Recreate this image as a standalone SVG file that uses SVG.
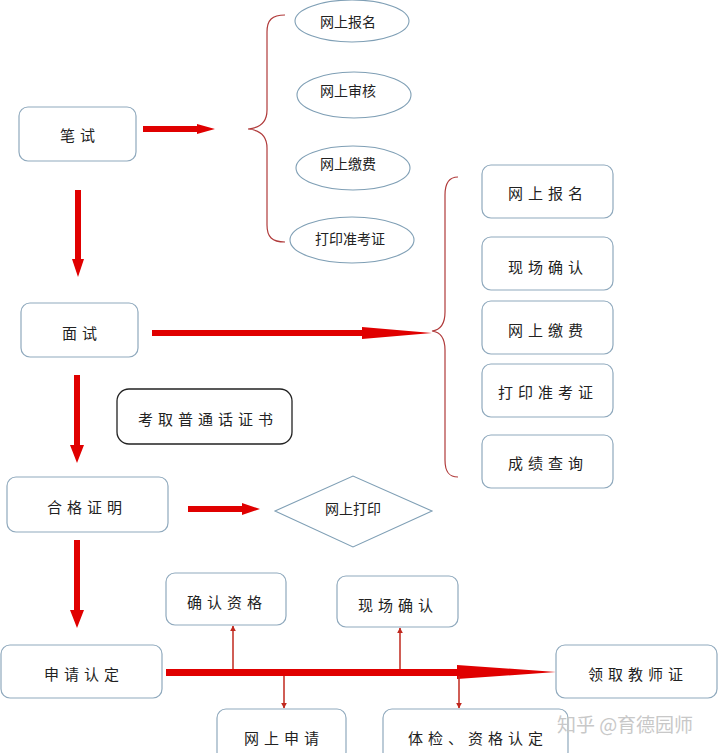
<svg xmlns="http://www.w3.org/2000/svg" width="720" height="753" viewBox="0 0 720 753">
<defs>
<style>
.box{fill:#fff;stroke:#8fa9bd;stroke-width:1.2}
.dark{fill:#fff;stroke:#222;stroke-width:1.3}
.ell{fill:#fff;stroke:#7f9fb5;stroke-width:1.1}
.t{font-family:"Noto Sans CJK SC","Noto Sans",sans-serif;font-size:15px;fill:#222;text-anchor:middle;dominant-baseline:central}
.ts{font-family:"Noto Sans CJK SC","Noto Sans",sans-serif;font-size:14px;fill:#222;text-anchor:middle;dominant-baseline:central}
.sp{letter-spacing:5px}
.big{fill:#e00000}
.brace{fill:none;stroke:#b03a3a;stroke-width:1.2}
.thin{stroke:#c0281e;stroke-width:1.5;fill:none;marker-end:url(#ah)}
</style>
<marker id="ah" viewBox="0 0 10 10" refX="9" refY="5" markerWidth="6" markerHeight="6" orient="auto" markerUnits="userSpaceOnUse">
<path d="M0,0 L10,5 L0,10 z" fill="#c0281e"/>
</marker>
</defs>
<rect width="720" height="753" fill="#fff"/>

<g id="connectors">
<polygon class="big" points="143,126 197,126 197,124 215,129 197,134 197,132 143,132"/>
<polygon class="big" points="75,190 81,190 81,259 84,259 78,277 72,259 75,259"/>
<polygon class="big" points="152,330 362,330 362,327 432,333 362,339 362,336 152,336"/>
<polygon class="big" points="74,375 80,375 80,445 84,445 77,463 70,445 74,445"/>
<polygon class="big" points="188,506 242,506 242,503 260,509 242,515 242,512 188,512"/>
<polygon class="big" points="74,540 80,540 80,610 84,610 77,628 70,610 74,610"/>
<polygon class="big" points="166,669 457,669 457,665 556,672 457,679 457,676 166,676"/>
<line class="thin" x1="233" y1="669" x2="233" y2="626"/>
<line class="thin" x1="400" y1="669" x2="400" y2="628"/>
<line class="thin" x1="284" y1="676" x2="284" y2="708"/>
<line class="thin" x1="459" y1="676" x2="459" y2="708"/>
<path class="brace" d="M285,15 C272,15 267,20 267,32 L267,110 C267,122 260,128 248,129 C260,130 267,136 267,148 L267,225 C267,237 272,242 285,242"/>
<path class="brace" d="M458,177 C449,177 445,183 445,195 L445,312 C445,324 440,330 432,331 C440,332 445,338 445,350 L445,460 C445,472 449,477 458,477"/>
</g>

<g id="n-bishi"><rect class="box" x="19" y="107" width="117" height="54" rx="9"/><text class="t sp" x="80" y="134">笔试</text></g>
<g id="n-e1"><ellipse class="ell" cx="352" cy="21" rx="57" ry="21"/><text class="ts" x="348" y="21">网上报名</text></g>
<g id="n-e2"><ellipse class="ell" cx="354" cy="95" rx="57" ry="23"/><text class="ts" x="348" y="90">网上审核</text></g>
<g id="n-e3"><ellipse class="ell" cx="353" cy="168" rx="57" ry="22"/><text class="ts" x="348" y="163">网上缴费</text></g>
<g id="n-e4"><ellipse class="ell" cx="352" cy="240" rx="62" ry="23"/><text class="ts" x="350" y="238">打印准考证</text></g>

<g id="n-mianshi"><rect class="box" x="21" y="303" width="117" height="54" rx="9"/><text class="t sp" x="82" y="332">面试</text></g>
<g id="n-r1"><rect class="box" x="482" y="165" width="131" height="53" rx="9"/><text class="t sp" x="548" y="192">网上报名</text></g>
<g id="n-r2"><rect class="box" x="482" y="237" width="131" height="53" rx="9"/><text class="t sp" x="548" y="266">现场确认</text></g>
<g id="n-r3"><rect class="box" x="482" y="301" width="131" height="53" rx="9"/><text class="t sp" x="548" y="329">网上缴费</text></g>
<g id="n-r4"><rect class="box" x="482" y="364" width="131" height="53" rx="9"/><text class="t sp" x="548" y="391">打印准考证</text></g>
<g id="n-r5"><rect class="box" x="482" y="435" width="131" height="53" rx="9"/><text class="t sp" x="548" y="462">成绩查询</text></g>

<g id="n-putonghua"><rect class="dark" x="117" y="389" width="175" height="55" rx="12"/><text class="t sp" x="208" y="418">考取普通话证书</text></g>
<g id="n-hege"><rect class="box" x="7" y="477" width="161" height="55" rx="9"/><text class="t sp" x="87" y="506">合格证明</text></g>
<g id="n-dayin"><polygon class="ell" points="275,511 353,476 432,511 353,547"/><text class="ts" x="353" y="508">网上打印</text></g>

<g id="n-shenqing"><rect class="box" x="1" y="645" width="161" height="53" rx="9"/><text class="t sp" x="84" y="673">申请认定</text></g>
<g id="n-queren"><rect class="box" x="166" y="573" width="120" height="52" rx="9"/><text class="t sp" x="227" y="601">确认资格</text></g>
<g id="n-xianchang"><rect class="box" x="337" y="576" width="121" height="51" rx="9"/><text class="t sp" x="398" y="604">现场确认</text></g>
<g id="n-lingqu"><rect class="box" x="556" y="645" width="161" height="53" rx="9"/><text class="t sp" x="638" y="673">领取教师证</text></g>
<g id="n-wangshang"><rect class="box" x="217" y="709" width="129" height="52" rx="9"/><text class="t sp" x="284" y="737">网上申请</text></g>
<g id="n-tijian"><rect class="box" x="383" y="709" width="185" height="52" rx="9"/><text class="t sp" x="478" y="737">体检、资格认定</text></g>

<text x="625" y="723" font-family="Noto Sans CJK SC,sans-serif" font-size="19" fill="#c8c8c8" text-anchor="middle" dominant-baseline="central">知乎 @育德园师</text>
</svg>
